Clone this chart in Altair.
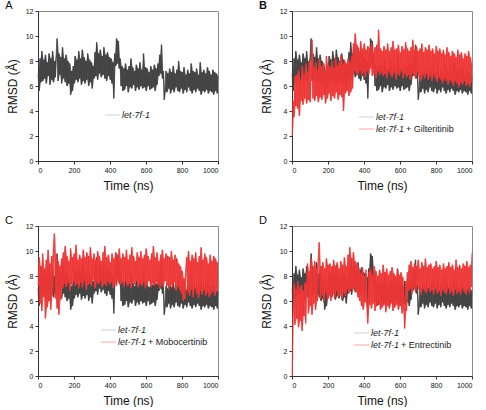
import altair as alt
import numpy as np
import pandas as pd

# ---------------- data (RMSD in Å, sampled every ~5 ns over 0-1000 ns) ----------------
let7f1 = [
    7.0, 5.6, 8.2, 6.3, 8.8,
    6.4, 8.1, 6.6, 8.5, 6.2, 7.9, 6.8, 8.6, 6.1, 8.2, 6.5, 8.8, 6.3, 8.0, 6.7, 8.4,
    9.8,
    6.4, 8.6, 6.9, 8.3, 6.2, 9.1, 6.6, 8.2, 6.3, 8.5, 6.0, 8.0, 6.2, 7.8,
    5.3, 7.2, 5.6,
    7.6, 6.2, 8.4, 6.5, 8.1, 6.3, 8.8, 6.6, 8.2, 6.1, 8.9, 6.4, 8.3, 6.2, 8.0, 6.5, 8.6, 6.0, 8.1, 6.3, 7.9,
    5.8, 7.6,
    6.6, 8.7, 6.8, 9.5, 6.5, 8.6, 7.0, 8.9, 6.7, 8.4, 6.9, 9.1, 6.6, 8.5, 6.4, 8.7, 6.8, 8.3, 6.5, 8.2, 6.2, 7.9,
    5.0,
    8.6, 7.6, 9.8, 7.8, 9.6, 7.4,
    8.2, 6.0, 7.6, 5.6,
    7.4, 5.7, 7.8, 6.0, 7.3, 5.5, 7.6, 5.9, 8.2, 5.8, 7.5, 6.1, 7.2, 5.6, 7.7, 5.9, 7.4, 5.7, 7.9, 6.0,
    7.3, 5.8, 8.6, 5.9, 7.5, 5.6, 7.4, 6.0, 7.1, 5.7, 7.6, 5.8, 7.3, 5.9, 7.7, 5.6, 7.4, 6.1, 7.8,
    6.8, 8.5, 7.0, 9.3, 6.6,
    7.2, 4.9,
    5.6, 7.2, 5.5, 7.0, 5.8, 7.4, 5.4, 7.1, 5.7, 7.6, 5.5, 7.0, 5.9, 7.3, 5.6, 8.0, 5.5, 7.2, 5.8, 7.1,
    5.4, 7.5, 5.7, 6.9, 5.5, 7.3, 5.9, 7.0, 5.6, 7.8, 5.4, 7.2, 5.7, 7.1, 5.5, 7.4, 5.8, 6.9, 5.6, 7.9,
    5.3, 7.1, 5.6, 7.3, 5.5, 7.0, 5.7, 7.5, 5.4, 7.2, 5.6, 6.9, 5.5, 7.3, 5.3, 7.1, 5.6, 7.0, 5.4, 6.8,
]

gilteritinib = [
    2.0, 4.8, 3.5, 6.8, 4.4,
    6.9, 4.2, 7.3, 3.6, 6.5, 4.8, 7.6, 4.5, 6.9, 5.0, 7.8, 4.6, 7.1, 4.9, 8.0, 4.7, 7.4,
    9.7,
    5.0, 7.5, 4.8, 7.9, 5.2, 7.3, 4.7, 8.2, 5.1, 7.6,
    4.9, 7.8, 5.3, 7.2, 4.6, 8.4, 5.0, 7.7, 5.4, 7.5,
    4.8, 8.0, 5.2, 7.4, 5.0, 8.3, 5.5, 7.6, 4.9, 7.9,
    5.3, 8.5, 5.1, 7.7, 4.0, 8.1, 5.4, 7.8, 5.6, 8.2,
    5.2, 7.9, 5.5, 8.4, 5.8,
    9.4, 7.2, 10.2,
    7.0, 9.3, 6.9, 8.8, 7.3, 9.6, 6.8, 9.0, 7.1, 9.4,
    6.7, 8.9, 7.2, 9.2, 6.9, 9.0, 7.4, 9.5, 6.8, 8.7,
    7.0, 9.1, 6.6, 9.3, 7.2, 10.5, 6.9, 9.0, 7.1, 8.8,
    6.8, 9.2, 7.0, 8.9, 6.6, 9.4, 7.2, 8.8, 6.9, 9.1,
    6.7, 9.6, 7.1, 8.9, 6.5, 9.0, 7.0, 9.3, 6.8, 8.7,
    7.2, 9.2, 6.6, 8.9, 7.0, 9.5, 6.7, 9.0, 6.9, 8.8,
    6.5, 9.1, 7.0, 9.7, 6.8, 8.9, 6.6, 9.2, 7.1, 8.8,
    6.7, 9.0, 6.4, 9.4, 6.9, 8.7, 6.6, 9.1, 7.0, 8.9,
    6.5, 9.3, 6.8, 8.8, 6.4, 9.0, 6.9, 8.6, 6.6, 9.2,
    6.3, 8.8, 6.7, 9.0, 6.5, 8.6, 6.2, 8.9, 6.6, 8.5,
    6.4, 9.1, 6.1, 8.7, 6.5, 8.4, 6.3, 8.8, 6.0, 8.6,
    6.4, 8.3, 6.2, 8.9, 5.9, 8.5, 6.3, 8.7, 6.1, 8.2,
    6.4, 8.6, 6.0, 8.4, 6.2, 8.8, 5.9, 8.3, 6.3, 7.8,
]

mobocertinib = [
    7.2, 9.5, 5.8, 8.8, 5.2, 9.8, 6.3, 8.6, 4.6, 9.3,
    5.5, 10.1, 6.0, 9.0, 5.3, 9.6, 6.5, 10.3, 11.4, 6.2,
    9.7, 5.4, 9.2, 4.9, 8.8, 6.1,
    9.4, 7.0, 9.9, 7.4, 10.4, 7.1, 9.6, 7.5, 9.2, 6.8,
    10.2, 7.3, 9.5, 7.6, 9.8, 7.2, 10.5, 7.4, 9.3, 7.0,
    9.7, 7.5, 9.4, 7.1, 10.1, 7.6, 9.5, 6.9, 9.9, 7.3,
    9.6, 7.4, 10.3, 7.2, 9.4, 7.7, 9.8, 7.0, 9.3, 7.5,
    10.0, 7.3, 9.6, 7.6, 9.2, 7.1, 9.9, 7.4, 10.4, 7.2,
    9.5, 7.6, 9.7, 7.3, 9.1, 7.5, 9.8, 7.0, 9.4, 7.4,
    9.9, 7.2, 9.6, 7.7, 10.2, 7.3, 9.4, 7.5, 9.8, 7.1,
    9.5, 7.6, 10.1, 7.2, 9.3, 7.4, 9.7, 7.0, 10.3, 7.5,
    9.6, 7.3, 9.2, 7.6, 9.9, 7.1, 9.5, 7.4, 10.0, 7.2,
    9.4, 7.5, 9.7, 7.0, 10.2, 7.3, 9.6, 7.6, 9.3, 7.1,
    9.8, 7.4, 10.4, 7.2, 9.5, 7.5, 9.9, 7.3, 9.2, 7.0,
    9.7, 7.4, 10.1, 7.1, 9.4, 7.6, 9.8, 7.2, 9.6, 6.9,
    9.5, 7.3, 10.0, 7.1, 9.3, 7.5, 9.7, 6.8, 9.4, 7.2, 9.0, 6.9, 8.8, 6.6, 8.4,
    6.0, 7.8, 6.2, 8.6,
    9.5, 6.7, 10.0, 6.4, 9.2, 6.9, 9.7, 6.3, 9.4, 7.0,
    9.9, 6.6, 9.1, 6.2, 9.6, 6.8, 10.3, 6.5, 9.3, 6.9,
    9.8, 6.4, 9.5, 6.7, 9.0, 6.3, 9.7, 6.6, 9.2, 6.8,
    9.6, 6.4, 9.4, 6.7, 9.1, 7.0,
]

entrectinib = [
    0.0,
    5.2, 7.4, 4.1, 6.9, 4.6, 7.6, 3.9, 7.0, 4.4, 7.3, 3.6, 6.8, 4.8, 7.5, 4.2, 7.1,
    9.0, 5.0, 8.4, 5.6, 9.4, 4.9, 8.8, 5.8, 9.2, 5.3, 8.6, 6.0, 9.5,
    10.7,
    6.2, 8.8, 6.5, 9.1, 5.9, 8.6, 6.7, 9.4, 6.1, 8.9,
    6.4, 9.0, 6.0, 8.7, 6.6, 9.3, 6.2, 8.8, 6.8, 9.1,
    6.3, 8.6, 6.5, 9.2, 6.1, 8.9, 6.7, 9.5, 6.4, 8.8,
    6.9, 9.7, 6.6, 10.3, 7.0, 9.4, 6.8, 9.9, 7.1, 9.2,
    6.7, 9.0, 6.3, 8.6, 6.0,
    8.2, 5.6, 8.7, 5.3, 8.0, 5.9, 8.5, 5.5, 4.2, 8.3,
    5.7, 8.6, 5.4, 8.1, 5.8, 8.8, 5.2, 8.4, 5.6, 8.0,
    5.9, 8.5, 5.3, 8.2, 5.5, 8.9, 5.7, 8.3, 5.1, 8.6,
    5.6, 8.1, 5.4, 8.4, 5.8, 8.7, 5.2, 8.2, 5.5, 8.0,
    5.7, 8.5, 5.3, 8.1, 5.6, 8.3, 5.0, 7.9, 5.4,
    3.8, 7.6, 5.2, 8.3,
    6.8, 8.9, 7.0, 9.2, 6.6, 8.7, 7.1, 9.0, 6.7, 8.8,
    7.2, 9.3, 6.9, 8.6, 6.5, 9.1, 7.0, 8.8, 6.8, 9.4,
    6.6, 8.7, 7.1, 8.9, 6.7, 9.0, 6.9, 8.6, 6.5, 8.8,
    7.0, 9.2, 6.6, 8.7, 6.8, 8.9, 6.4, 8.5, 6.9, 9.0,
    6.7, 8.6, 6.5, 8.8, 7.0, 9.1, 6.6, 8.7, 6.8, 8.9,
    6.4, 8.5, 6.9, 9.3, 6.6, 8.7, 6.8, 8.9, 6.5, 8.6,
    7.0, 9.0, 6.7, 8.8, 6.5, 9.2, 6.9, 8.7, 6.6, 8.9,
    7.1, 9.9,
]

x_ticks = [0, 200, 400, 600, 800, 1000]
y_ticks = [0, 2, 4, 6, 8, 10, 12]
panel_letters = ["A", "B", "C", "D"]
base_label = "let-7f-1"
ligand_names = ["", "Gilteritinib", "Mobocertinib", "Entrectinib"]
red_series = [None, gilteritinib, mobocertinib, entrectinib]

GREY = "#3a3a3a"
GREY_FILL = "#4a4a4a"
RED = "#ec2a2a"
RED_FILL = "#f04646"
LEG_GREY = "#cfcfcf"
LEG_RED = "#f7a8a8"
FONT = "Liberation Sans"


def series_df(vals, name):
    s = pd.Series(vals, dtype=float)
    t = np.linspace(0, 1000, len(vals))
    return pd.DataFrame({"t": t, "v": s,
                         "lo": s.rolling(2, min_periods=1).min(),
                         "hi": s.rolling(2, min_periods=1).max(),
                         "s": name})


def panel(i, leg_x, leg_y):
    xsc = alt.Scale(domain=[0, 1000], nice=False)
    ysc = alt.Scale(domain=[0, 12], nice=False)
    xax = alt.Axis(values=x_ticks, format="d", title="Time (ns)")
    yax = alt.Axis(values=y_ticks, format="d", title="RMSD (Å)")
    x = alt.X("t:Q", scale=xsc, axis=xax)

    def trace(vals, name, line_col, fill_col, fill_op):
        base = alt.Chart(series_df(vals, name))
        band = base.mark_area(color=fill_col, opacity=fill_op).encode(
            x=x, y=alt.Y("lo:Q", scale=ysc, axis=yax), y2="hi:Q")
        line = base.mark_line(color=line_col, strokeWidth=0.6, strokeJoin="bevel").encode(
            x=x, y=alt.Y("v:Q", scale=ysc, axis=yax))
        return [band, line]

    layers = trace(let7f1, base_label, GREY, GREY_FILL, 0.95)
    if red_series[i] is not None:
        layers += trace(red_series[i], ligand_names[i], RED, RED_FILL, 0.92)
    one = pd.DataFrame({"k": [0]})
    entries = [(base_label, "", LEG_GREY)]
    if ligand_names[i]:
        entries.append((base_label, "+ " + ligand_names[i], LEG_RED))
    for r, (ital, rest, col) in enumerate(entries):
        yy = leg_y + 12 * r
        layers.append(alt.Chart(one).mark_rule(color=col, strokeWidth=1).encode(
            x=alt.value(leg_x), x2=alt.value(leg_x + 15), y=alt.value(yy)))
        layers.append(alt.Chart(one).mark_text(
            align="left", baseline="middle", fontSize=9, fontStyle="italic",
            font=FONT, color="#222").encode(
            x=alt.value(leg_x + 17), y=alt.value(yy), text=alt.value(ital)))
        if rest:
            layers.append(alt.Chart(one).mark_text(
                align="left", baseline="middle", fontSize=9,
                font=FONT, color="#222").encode(
                x=alt.value(leg_x + 47), y=alt.value(yy), text=alt.value(rest)))
    layers.append(alt.Chart(one).mark_text(
        align="center", baseline="middle", fontSize=11, font=FONT,
        fontWeight="bold" if i == 1 else "normal", color="#111").encode(
        x=alt.value(-29), y=alt.value(-5), text=alt.value(panel_letters[i])))
    return alt.layer(*layers).properties(width=180, height=150)


pA = panel(0, 67, 104)
pB = panel(1, 67, 106)
pC = panel(2, 63, 104)
pD = panel(3, 62, 107)

chart = (
    alt.concat(pA, pB, pC, pD, columns=2, bounds="flush",
               spacing={"row": 65, "column": 74})
    .properties(padding={"left": 4, "top": -1, "right": 2, "bottom": 0})
    .configure_view(stroke="#8c8c8c", strokeWidth=1)
    .configure_axis(
        grid=False,
        domainColor="#333", domainWidth=1,
        tickColor="#333", tickSize=3, tickWidth=1,
        labelFont=FONT, labelFontSize=7, labelColor="#111", labelPadding=2,
        titleFont=FONT, titleFontSize=12, titleFontWeight="normal", titleColor="#111",
    )
    .configure_axisY(titlePadding=6)
    .configure_axisX(titlePadding=7)
)

chart.save("out.html", embed_options={"renderer": "svg", "actions": False})
